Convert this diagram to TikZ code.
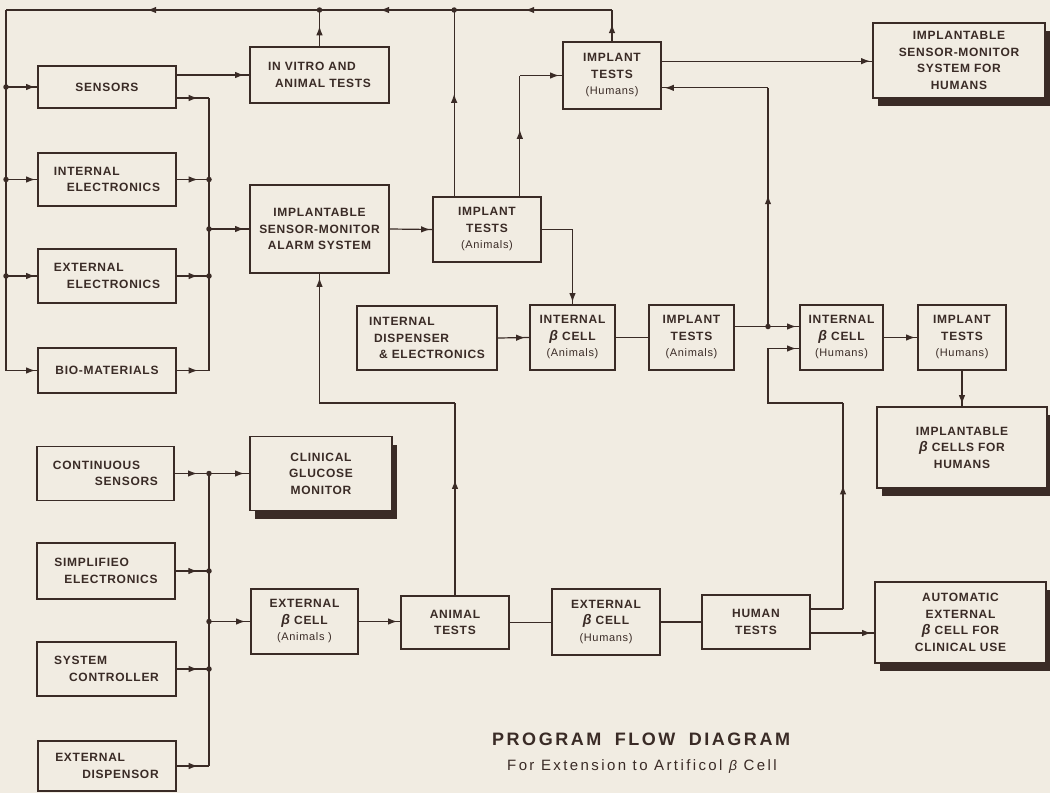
\documentclass[tikz,border=0pt]{standalone}
\usepackage{fontspec}
\usetikzlibrary{arrows.meta,decorations.markings,shadows,calc}
\setmainfont{Liberation Sans}
\newfontfamily\lblfont[LetterSpace=6]{Liberation Sans}
\newfontfamily\titlefont[LetterSpace=14]{Liberation Sans}
\newfontfamily\subfont[LetterSpace=16]{Liberation Sans}
\definecolor{paper}{HTML}{F1ECE2}
\definecolor{ink}{HTML}{3A2B26}
\newcommand{\grp}[1]{{\mdseries\fontsize{11}{16.5}\selectfont #1}}
\newcommand{\bet}{{\fontsize{14}{16.5}\selectfont\itshape β}}
\tikzset{
  box/.style={draw=ink, line width=1.7pt, fill=paper, inner sep=2pt, text=ink,
    font=\lblfont\bfseries\fontsize{12}{16.5}\selectfont, align=center},
  goal/.style={box, drop shadow={shadow xshift=5pt, shadow yshift=-8pt, fill=ink, opacity=1}},
  wire/.style={draw=ink, line width=1.2pt},
  tipat/.style={postaction={decorate}, decoration={markings,
    mark=at position #1 with {\arrow[ink]{Latex[length=9pt,width=6.5pt]}}}},
  junc/.style={circle, fill=ink, inner sep=0pt, minimum size=5.5pt},
}
\begin{document}
\begin{tikzpicture}[x=1pt,y=-1pt]
\fill[paper] (0,0) rectangle (1050,793);
\useasboundingbox (0,0) rectangle (1050,793);
\clip (0,0) rectangle (1050,793);

% ---- implantable sensor branch (upper left) ----
\node[box, minimum width=138pt, minimum height=42pt] (sens) at (107,87) {SENSORS};
\node[box, minimum width=138pt, minimum height=53pt, align=left] (intel) at (107,179.5) {INTERNAL\\\hspace*{13pt}ELECTRONICS};
\node[box, minimum width=138pt, minimum height=54pt, align=left] (extel) at (107,276) {EXTERNAL\\\hspace*{13pt}ELECTRONICS};
\node[box, minimum width=138pt, minimum height=45pt] (bio) at (107,370.5) {BIO-MATERIALS};
\node[box, minimum width=139pt, minimum height=56pt, align=left] (ivt) at (319.5,75) {IN VITRO AND\\\hspace*{7pt}ANIMAL TESTS};
\node[box, minimum width=139pt, minimum height=88pt] (isma) at (319.5,229) {IMPLANTABLE\\SENSOR-MONITOR\\ALARM SYSTEM};
\node[box, minimum width=108pt, minimum height=65pt] (ita) at (487,229.5) {IMPLANT\\TESTS\\\grp{(Animals)}};
\node[box, minimum width=98pt, minimum height=67pt] (ith) at (612,75.5) {IMPLANT\\TESTS\\\grp{(Humans)}};
\node[goal, minimum width=172pt, minimum height=75pt] (ismh) at (959,60.5) {IMPLANTABLE\\SENSOR-MONITOR\\SYSTEM FOR\\HUMANS};

% ---- internal beta cell row ----
\node[box, minimum width=140pt, minimum height=64pt, align=left] (idisp) at (427,338) {INTERNAL\\\hspace*{5pt}DISPENSER\\\hspace*{10pt}\& ELECTRONICS};
\node[box, minimum width=85pt, minimum height=65pt] (icA) at (572.5,337.5) {INTERNAL\\\bet{} CELL\\\grp{(Animals)}};
\node[box, minimum width=85pt, minimum height=65pt] (itA2) at (691.5,337.5) {IMPLANT\\TESTS\\\grp{(Animals)}};
\node[box, minimum width=83pt, minimum height=65pt] (icH) at (841.5,337.5) {INTERNAL\\\bet{} CELL\\\grp{(Humans)}};
\node[box, minimum width=88pt, minimum height=65pt] (itH2) at (962,337.5) {IMPLANT\\TESTS\\\grp{(Humans)}};
\node[goal, minimum width=170pt, minimum height=81pt] (ibc) at (962,447.5) {IMPLANTABLE\\\bet{} CELLS FOR\\HUMANS};

% ---- external beta cell branch (lower) ----
\node[box, minimum width=137pt, minimum height=54pt, align=left] (cs) at (105.5,473.5) {CONTINUOUS\\\hspace*{42pt}SENSORS};
\node[goal, minimum width=142pt, minimum height=74pt] (cgm) at (321,473.5) {CLINICAL\\GLUCOSE\\MONITOR};
\node[box, minimum width=138pt, minimum height=56pt, align=left] (simp) at (106,571) {SIMPLIFIEO\\\hspace*{10pt}ELECTRONICS};
\node[box, minimum width=139pt, minimum height=54pt, align=left] (sysc) at (106.5,669) {SYSTEM\\\hspace*{15pt}CONTROLLER};
\node[box, minimum width=138pt, minimum height=50pt, align=left] (extd) at (107,766) {EXTERNAL\\\hspace*{27pt}DISPENSOR};
\node[box, minimum width=107pt, minimum height=65pt] (ebA) at (304.5,621.5) {EXTERNAL\\\bet{} CELL\\\grp{(Animals )}};
\node[box, minimum width=108pt, minimum height=53pt] (at) at (455,622.5) {ANIMAL\\TESTS};
\node[box, minimum width=108pt, minimum height=66pt] (ebH) at (606,622) {EXTERNAL\\\bet{} CELL\\\grp{(Humans)}};
\node[box, minimum width=108pt, minimum height=54pt] (ht) at (756,622) {HUMAN\\TESTS};
\node[goal, minimum width=171pt, minimum height=81pt] (auto) at (960.5,622.5) {AUTOMATIC\\EXTERNAL\\\bet{} CELL FOR\\CLINICAL USE};

% ---- title ----
\node[font=\titlefont\bfseries\fontsize{18}{20}\selectfont, text=ink, anchor=west, inner sep=0pt] (title) at (492,739.5) {PROGRAM\hspace{6pt} FLOW\hspace{6pt} DIAGRAM};
\node[font=\subfont\fontsize{15}{18}\selectfont, text=ink, anchor=west, inner sep=0pt] (subtitle) at (507,766.5) {For Extension to Artificol \bet\ Cell};

% ---- helper coordinates ----
\coordinate (tl) at (6,10);
\coordinate (busx) at (209,0);
\coordinate (midy) at (0,403);
\coordinate (rx) at (768,0);
\coordinate (hx) at (843,0);
\coordinate (itaL) at ($(ita.north west)+(22,0)$);
\coordinate (itaR) at ($(ita.north east)+(-22,0)$);
\coordinate (ithOut) at ($(ith.north east)+(0,20)$);
\coordinate (ithIn) at ($(ith.south east)+(0,-22)$);
\coordinate (icHa) at ($(icH.west)+(0,-11)$);
\coordinate (icHb) at ($(icH.west)+(0,11)$);
\coordinate (htUp) at ($(ht.east)+(0,-13)$);
\coordinate (htLo) at ($(ht.east)+(0,11)$);
\coordinate (sensB) at ($(sens.east)+(0,11)$);

% ---- junction dots ----
\node[junc] (jTopA) at (ivt.north |- tl) {};
\node[junc] (jTopB) at (itaL |- tl) {};
\node[junc] (jLs) at (tl |- sens.west) {};
\node[junc] (jLi) at (tl |- intel.west) {};
\node[junc] (jLe) at (tl |- extel.west) {};
\node[junc] (jI) at (busx |- intel.east) {};
\node[junc] (jE) at (busx |- extel.east) {};
\node[junc] (jM) at (busx |- isma.west) {};
\node[junc] (jR) at (rx |- icHa) {};
\node[junc] (jC) at (busx |- cs.east) {};
\node[junc] (jS) at (busx |- simp.east) {};
\node[junc] (jY) at (busx |- sysc.east) {};
\node[junc] (jB) at (busx |- ebA.west) {};

% ---- top feedback line ----
\draw[wire, tipat=0.55] (ith.north) -- (ith.north |- tl);
\draw[wire, tipat=0.55] (ith.north |- tl) -- (jTopB.center);
\draw[wire, tipat=0.55] (jTopB.center) -- (jTopA.center);
\draw[wire, tipat=0.55] (jTopA.center) -- (tl);
\draw[wire, tipat=-2pt] (tl) -- (tl |- bio.west) -- (bio.west);
\draw[wire, tipat=-2pt] (jLs.center) -- (sens.west);
\draw[wire, tipat=-2pt] (jLi.center) -- (intel.west);
\draw[wire, tipat=-2pt] (jLe.center) -- (extel.west);
\draw[wire, tipat=0.55] (ivt.north) -- (jTopA.center);
\draw[wire, tipat=0.55] (itaL) -- (jTopB.center);

% ---- upper-left collector bus ----
\draw[wire, tipat=-5pt] (ivt.west -| sens.east) -- (ivt.west);
\draw[wire, tipat=0.65] (sensB) -- (busx |- sensB);
\draw[wire] (busx |- sensB) -- (busx |- bio.east);
\draw[wire, tipat=0.65] (intel.east) -- (jI.center);
\draw[wire, tipat=0.65] (extel.east) -- (jE.center);
\draw[wire, tipat=0.65] (bio.east) -- (busx |- bio.east);
\draw[wire, tipat=-5pt] (jM.center) -- (isma.west);

% ---- implant tests ----
\draw[wire, tipat=-2pt] (isma.east) -- (ita.west);
\draw[wire, tipat=0.55] (itaR) -- (itaR |- ith.west);
\draw[wire, tipat=-3pt] (itaR |- ith.west) -- (ith.west);
\draw[wire, tipat=-2pt] (ita.east) -| (icA.north);
\draw[wire, tipat=-2pt] (ithOut) -- (ithOut -| ismh.west);
\draw[wire, tipat=0.55] (jR.center) -- (rx |- ithIn);
\draw[wire, tipat=-3pt] (rx |- ithIn) -- (ithIn);

% ---- internal beta cell row ----
\draw[wire, tipat=-4pt] (idisp.east) -- (icA.west);
\draw[wire] (icA.east) -- (itA2.west);
\draw[wire, tipat=-3pt] (itA2.east |- icHa) -- (icHa);
\draw[wire, tipat=-2pt] (icH.east) -- (itH2.west);
\draw[wire, tipat=-2pt] (itH2.south) -- (ibc.north);

% ---- lower-right feedback ----
\draw[wire] (htUp) -- (hx |- htUp);
\draw[wire, tipat=0.6] (hx |- htUp) -- (hx |- midy);
\draw[wire, tipat=-3pt] (hx |- midy) -- (rx |- midy) -- (rx |- icHb) -- (icHb);
\draw[wire, tipat=-3pt] (htLo) -- (htLo -| auto.west);

% ---- lower-left feedback to alarm system ----
\draw[wire, tipat=0.6] (at.north) -- (at.north |- midy);
\draw[wire, tipat=-4pt] (at.north |- midy) -- (isma.south |- midy) -- (isma.south);

% ---- lower-left collector bus ----
\draw[wire, tipat=0.65] (cs.east) -- (jC.center);
\draw[wire, tipat=-5pt] (jC.center) -- (cgm.west);
\draw[wire, tipat=0.65] (simp.east) -- (jS.center);
\draw[wire, tipat=0.65] (sysc.east) -- (jY.center);
\draw[wire, tipat=0.65] (extd.east) -- (busx |- extd.east);
\draw[wire] (jC.center) -- (busx |- extd.east);
\draw[wire, tipat=-5pt] (jB.center) -- (ebA.west);
\draw[wire, tipat=-3pt] (ebA.east) -- (ebA.east -| at.west);
\draw[wire] (at.east) -- (at.east -| ebH.west);
\draw[wire] (ebH.east) -- (ebH.east -| ht.west);
\end{tikzpicture}
\end{document}
